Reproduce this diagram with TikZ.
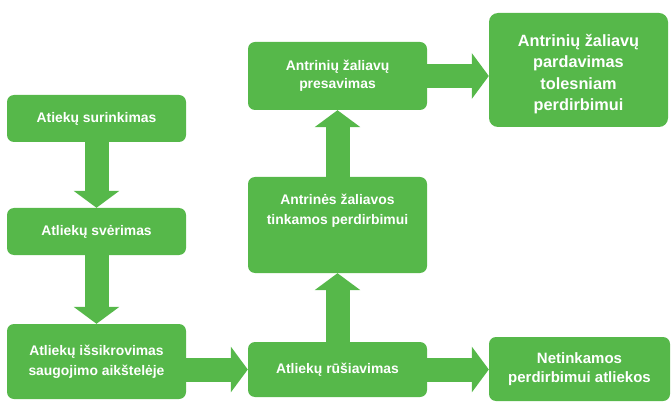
\documentclass[tikz,border=0pt]{standalone}
\usepackage{fontspec}
\setmainfont{Liberation Sans}
\usetikzlibrary{arrows.meta, positioning}
\definecolor{boxgreen}{RGB}{86,184,74}

\begin{document}
\begin{tikzpicture}[x=1pt, y=-1pt,
		stage/.style={fill=boxgreen, rounded corners=7pt, text=white, align=center,
			font=\bfseries\fontsize{13.9}{20}\selectfont, minimum width=179pt, inner sep=0pt},
		bigstage/.style={stage, rounded corners=9pt, font=\bfseries\fontsize{16.3}{21.5}\selectfont},
		flow/.style={draw=boxgreen, line width=24pt, -{Triangle[width=45pt,length=17pt]}}]
	\useasboundingbox (0,0) rectangle (671,403);

	\draw (96.5,118.5) node[stage, minimum height=47pt] (collect) {Atiekų surinkimas}
		(96.5,231.5) node[stage, minimum height=47pt] (weigh) {Atliekų svėrimas}
		(96.5,361.5) node[stage, minimum height=75pt] (unload) {Atliekų išsikrovimas\\saugojimo aikštelėje}
		(337.5,369.5) node[stage, minimum height=55pt] (sort) {Atliekų rūšiavimas}
		(337.5,225) node[stage, minimum height=96pt,
			label={[stage, minimum width=0pt, fill=none, anchor=north, yshift=-17pt]north:{Antrinės žaliavos\\tinkamos perdirbimui}}] (usable) {}
		(337.5,76) node[stage, font=\bfseries\fontsize{13.9}{18}\selectfont, minimum height=68pt] (press) {Antrinių žaliavų\\presavimas}
		(578.5,70) node[bigstage, minimum height=114pt] (sell) {}
		(578.5,74) node[bigstage, fill=none] (selltext) {Antrinių žaliavų\\pardavimas\\tolesniam\\perdirbimui}
		(579.5,369) node[stage, font=\bfseries\fontsize{15}{18.5}\selectfont, minimum width=181pt, minimum height=64pt] (waste) {Netinkamos\\perdirbimui atliekos};

	\draw[flow] (collect.south) -- (weigh.north);
	\draw[flow] (weigh.south) -- (unload.north);
	\draw[flow] (unload.east |- sort.west) -- (sort.west);
	\draw[flow] (sort.east) -- (waste.west |- sort.east);
	\draw[flow] (sort.north) -- (usable.south);
	\draw[flow] (usable.north) -- (press.south);
	\draw[flow] (press.east) -- (press.east -| sell.west);
\end{tikzpicture}
\end{document}
